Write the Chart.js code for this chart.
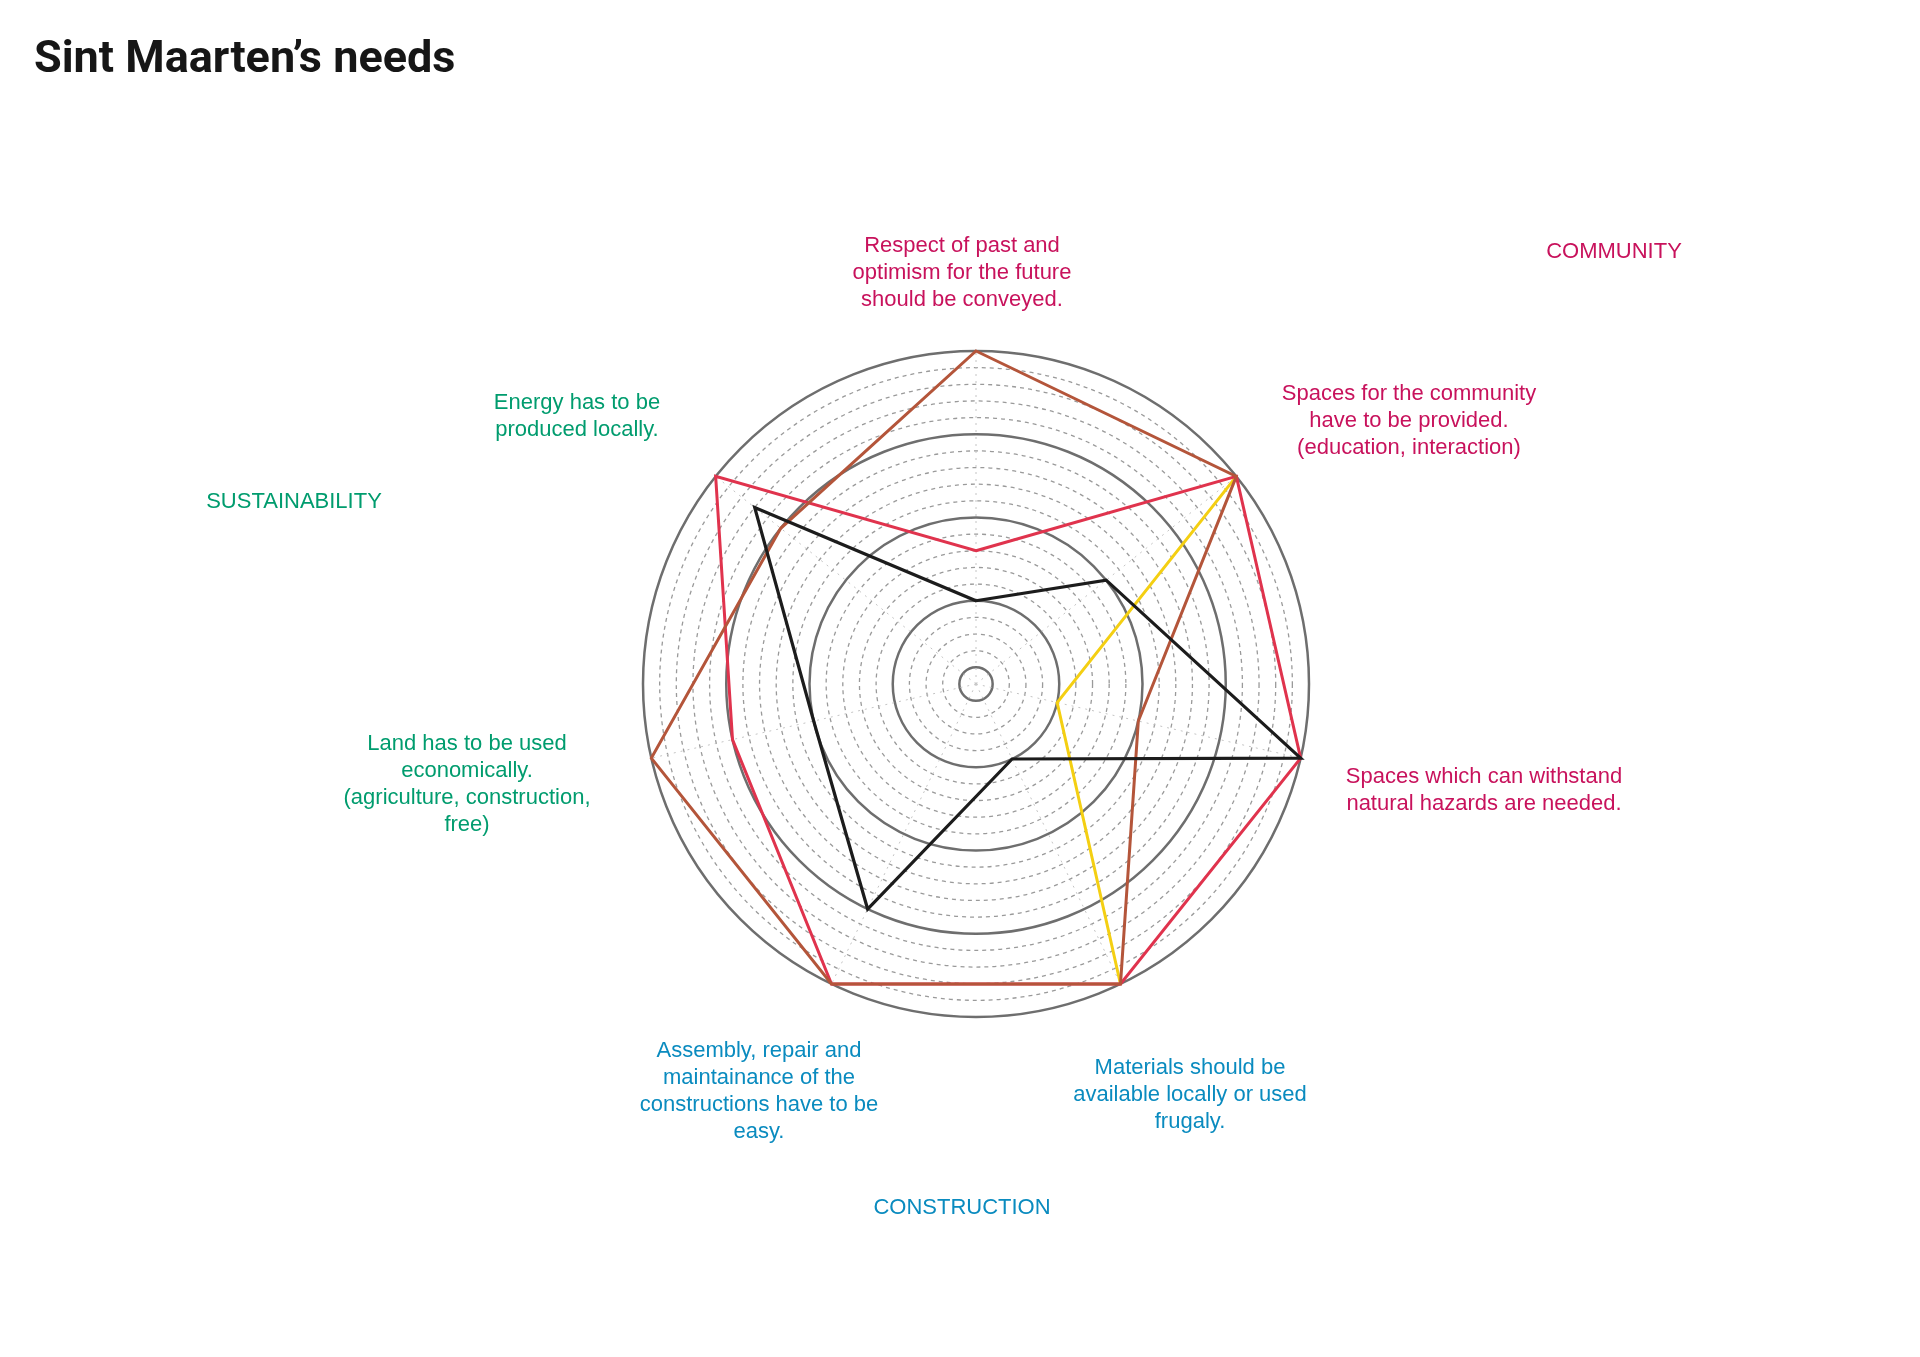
<!DOCTYPE html>
<html>
<head>
<meta charset="utf-8">
<title>Sint Maarten's needs</title>
<script src="https://cdn.jsdelivr.net/npm/chart.js@4.4.1/dist/chart.umd.min.js"></script>
<style>
  html, body { margin: 0; padding: 0; background: #fff; }
  #wrap { position: relative; width: 1920px; height: 1357px; }
</style>
</head>
<body>
<div id="wrap"><canvas id="needsChart"></canvas></div>
<script>
// axis labels, clockwise from the top, one array of lines each
var needs = [
  ['Respect of past and', 'optimism for the future', 'should be conveyed.'],
  ['Spaces for the community', 'have to be provided.', '(education, interaction)'],
  ['Spaces which can withstand', 'natural hazards are needed.'],
  ['Materials should be', 'available locally or used', 'frugaly.'],
  ['Assembly, repair and', 'maintainance of the', 'constructions have to be', 'easy.'],
  ['Land has to be used', 'economically.', '(agriculture, construction,', 'free)'],
  ['Energy has to be', 'produced locally.']
];
var needGroup = ['community', 'community', 'community', 'construction', 'construction', 'sustainability', 'sustainability'];
var groupNames = ['COMMUNITY', 'SUSTAINABILITY', 'CONSTRUCTION'];
var groupKeys = ['community', 'sustainability', 'construction'];

// series values (scale 0..20)
var blackValues = [5, 10, 20, 5, 15, 10, 17];
var brownValues = [20, 20, 10, 20, 20, 20, 15];
var redValues = [8, 20, 20, 20, 20, 15, 20];
var yellowValues = [null, 20, 5, 20, null, null, null];

var scaleMax = 20;

// look
var groupColors = { community: '#c8125c', sustainability: '#009c6e', construction: '#0a8bbf' };
// where each text block sits, relative to the centre of the web
var needOffsets = [[-14, -411], [433, -263], [508, 106], [214, 411], [-217, 407], [-509, 100], [-399, -268]];
var groupOffsets = [[638, -432], [-682, -182], [-14, 524]];

function isMajor(v) {
  return v % 5 === 0 || v === 1;
}

var textPlugin = {
  id: 'needsText',
  afterDraw: function(chart) {
    var ctx = chart.ctx;
    var r = chart.scales.r;
    var cx = r.xCenter, cy = r.yCenter;
    var lh = 27;
    ctx.save();
    ctx.textAlign = 'center';
    ctx.textBaseline = 'middle';
    ctx.font = '22px "Liberation Sans", Arial, sans-serif';
    needs.forEach(function(lines, i) {
      var x = cx + needOffsets[i][0];
      var y = cy + needOffsets[i][1] - (lines.length - 1) * lh / 2;
      ctx.fillStyle = groupColors[needGroup[i]];
      lines.forEach(function(line, j) {
        ctx.fillText(line, x, y + j * lh);
      });
    });
    groupNames.forEach(function(name, i) {
      ctx.fillStyle = groupColors[groupKeys[i]];
      ctx.fillText(name, cx + groupOffsets[i][0], cy + groupOffsets[i][1]);
    });
    // title
    ctx.textAlign = 'left';
    ctx.textBaseline = 'alphabetic';
    ctx.fillStyle = '#161616';
    ctx.font = 'bold 45px Roboto, sans-serif';
    ctx.fillText('Sint Maarten\u2019s needs', 34, 72);
    ctx.restore();
  }
};

var ctx = document.getElementById('needsChart').getContext('2d');
var needsChart = new Chart(ctx, {
  type: 'radar',
  data: {
    labels: needs.map(function(l) { return l.join(' '); }),
    datasets: [
      { label: 'black', data: blackValues, borderColor: '#1c1c1c', borderWidth: 3.2 },
      { label: 'brown', data: brownValues, borderColor: '#b4553a' },
      { label: 'red', data: redValues, borderColor: '#e0334d' },
      { label: 'yellow', data: yellowValues, borderColor: '#f4cf12' }
    ]
  },
  options: {
    responsive: true,
    maintainAspectRatio: false,
    animation: false,
    layout: { padding: { left: 643, right: 611, top: 351, bottom: 340 } },
    elements: {
      line: { borderWidth: 3, fill: false, tension: 0 },
      point: { radius: 0, hoverRadius: 0 }
    },
    plugins: {
      legend: { display: false },
      tooltip: { enabled: false },
      title: { display: false }
    },
    scales: {
      r: {
        min: 0,
        max: scaleMax,
        ticks: { display: false, stepSize: 1 },
        pointLabels: { display: false },
        angleLines: { display: true, color: '#c4c4c4', lineWidth: 1, borderDash: [2, 5] },
        grid: {
          circular: true,
          color: function(c) { return isMajor(c.tick.value) ? '#6e6e6e' : '#9a9a9a'; },
          lineWidth: function(c) { return isMajor(c.tick.value) ? 2.5 : 1.3; }
        },
        border: {
          dash: function(c) { return isMajor(c.tick.value) ? [] : [4, 4]; }
        }
      }
    }
  },
  plugins: [textPlugin]
});
</script>
</body>
</html>
